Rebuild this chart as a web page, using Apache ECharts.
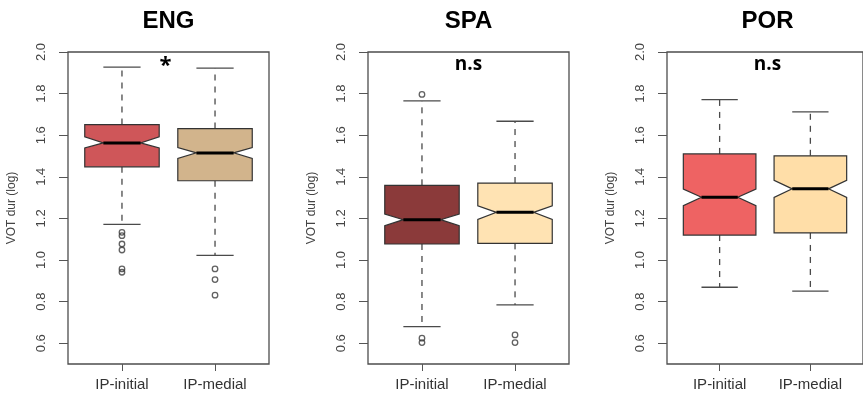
<!DOCTYPE html>
<html>
<head>
<meta charset="utf-8">
<script src="https://cdn.jsdelivr.net/npm/echarts@6/dist/echarts.min.js"></script>
<style>
  html, body { margin: 0; padding: 0; background: #fff; }
  #chart { width: 863px; height: 399px; }
</style>
</head>
<body>
<div id="chart"></div>
<script>
// Groups and panels
const categories = ['IP-initial', 'IP-medial'];
const panels = ['ENG', 'SPA', 'POR'];
const significance = ['*', 'n.s', 'n.s'];
const yTicks = [0.6, 0.8, 1.0, 1.2, 1.4, 1.6, 1.8, 2.0];

// Box summaries: [lower whisker, Q1, notch low, median, notch high, Q3, upper whisker]
const engInitial = [1.171, 1.448, 1.539, 1.563, 1.592, 1.651, 1.927];
const engMedial  = [1.022, 1.381, 1.488, 1.515, 1.541, 1.632, 1.922];
const spaInitial = [0.680, 1.077, 1.165, 1.194, 1.221, 1.359, 1.765];
const spaMedial  = [0.784, 1.080, 1.195, 1.229, 1.261, 1.370, 1.667];
const porInitial = [0.869, 1.120, 1.261, 1.302, 1.341, 1.510, 1.771];
const porMedial  = [0.850, 1.130, 1.301, 1.342, 1.383, 1.501, 1.712];

// Outlying points
const engInitialOut = [1.133, 1.117, 1.077, 1.048, 0.957, 0.941];
const engMedialOut  = [0.957, 0.906, 0.831];
const spaInitialOut = [1.796, 0.624, 0.603];
const spaMedialOut  = [0.640, 0.603];
const porInitialOut = [];
const porMedialOut  = [];

const boxes = [[engInitial, engMedial], [spaInitial, spaMedial], [porInitial, porMedial]];
const outliers = [[engInitialOut, engMedialOut], [spaInitialOut, spaMedialOut], [porInitialOut, porMedialOut]];
const fills = [['#CF5659', '#D2B48C'], ['#8B3A3A', '#FFE3B3'], ['#EE6363', '#FFDEA8']];

const FONT = 'Liberation Sans, Arial, sans-serif';
const gridLefts = [68, 368, 667];
const gridTop = 52, gridW = 201, gridH = 312;

function makeRenderer(panelIdx) {
  return function (params, api) {
    const x = api.value(0);
    const wlo = api.value(1), q1 = api.value(2), nlo = api.value(3), med = api.value(4),
          nhi = api.value(5), q3 = api.value(6), whi = api.value(7);
    const hw = api.size([0.4, 0])[0];
    const cw = hw / 2;
    const P = v => api.coord([x, v]);
    const xc = P(med)[0];
    const yWlo = P(wlo)[1], yQ1 = P(q1)[1], yNlo = P(nlo)[1], yMed = P(med)[1],
          yNhi = P(nhi)[1], yQ3 = P(q3)[1], yWhi = P(whi)[1];
    const fill = fills[panelIdx][params.dataIndex];
    const whiskerStyle = { stroke: '#4a4a4a', lineWidth: 1.3, lineDash: [6, 6], fill: null };
    const capStyle = { stroke: '#4a4a4a', lineWidth: 1.3, fill: null };
    return {
      type: 'group',
      children: [
        { type: 'polyline', shape: { points: [[xc, yQ1], [xc, yWlo]] }, style: whiskerStyle },
        { type: 'polyline', shape: { points: [[xc, yQ3], [xc, yWhi]] }, style: whiskerStyle },
        { type: 'polyline', shape: { points: [[xc - cw, yWlo], [xc + cw, yWlo]] }, style: capStyle },
        { type: 'polyline', shape: { points: [[xc - cw, yWhi], [xc + cw, yWhi]] }, style: capStyle },
        {
          type: 'polygon',
          shape: {
            points: [
              [xc - hw, yQ3], [xc + hw, yQ3], [xc + hw, yNhi], [xc + cw, yMed], [xc + hw, yNlo],
              [xc + hw, yQ1], [xc - hw, yQ1], [xc - hw, yNlo], [xc - cw, yMed], [xc - hw, yNhi]
            ]
          },
          style: { fill: fill, stroke: '#333', lineWidth: 1.2 }
        },
        { type: 'polyline', shape: { points: [[xc - cw, yMed], [xc + cw, yMed]] },
          style: { stroke: '#000', lineWidth: 3, fill: null } }
      ]
    };
  };
}

const grid = [], xAxis = [], yAxis = [], series = [], graphic = [];

panels.forEach((name, i) => {
  grid.push({
    left: gridLefts[i], top: gridTop, width: gridW, height: gridH,
    show: true, borderColor: '#4d4d4d', borderWidth: 1.3, backgroundColor: 'transparent'
  });
  xAxis.push({
    gridIndex: i, type: 'value', min: 0.42, max: 2.58,
    axisLine: { show: false },
    splitLine: { show: false },
    axisTick: { show: true, customValues: [1, 2], length: 7, lineStyle: { color: '#555' } },
    axisLabel: {
      show: true, customValues: [1, 2], margin: 13,
      formatter: v => categories[Math.round(v) - 1],
      fontFamily: FONT, fontSize: 15, color: '#333'
    }
  });
  yAxis.push({
    gridIndex: i, type: 'value', min: 0.5, max: 2.0,
    name: 'VOT dur (log)', nameLocation: 'middle', nameGap: 50, nameRotate: 90,
    nameTextStyle: { fontFamily: FONT, fontSize: 12, color: '#444' },
    axisLine: { show: false },
    splitLine: { show: false },
    axisTick: { show: true, customValues: yTicks, length: 9, lineStyle: { color: '#555' } },
    axisLabel: {
      show: true, customValues: yTicks, rotate: 90, margin: 20,
      formatter: v => v.toFixed(1),
      fontFamily: FONT, fontSize: 13, color: '#444'
    }
  });
  series.push({
    type: 'custom', xAxisIndex: i, yAxisIndex: i,
    renderItem: makeRenderer(i),
    encode: { x: 0, y: [1, 2, 3, 4, 5, 6, 7] },
    data: boxes[i].map((b, k) => [k + 1].concat(b)),
    z: 2
  });
  const pts = [];
  outliers[i].forEach((arr, k) => arr.forEach(v => pts.push([k + 1, v])));
  series.push({
    type: 'scatter', xAxisIndex: i, yAxisIndex: i,
    symbol: 'circle', symbolSize: 5.5,
    itemStyle: { color: 'rgba(0,0,0,0)', borderColor: '#3a3a3a', borderWidth: 1.3 },
    data: pts, z: 3
  });
  graphic.push({
    type: 'text', x: gridLefts[i] + gridW / 2, y: 21,
    style: { text: name, textAlign: 'center', textVerticalAlign: 'middle',
             font: 'bold 24px ' + FONT, fill: '#000' }
  });
  graphic.push({
    type: 'text', x: gridLefts[i] + gridW / 2 - (i === 0 ? 3 : 0), y: i === 0 ? 66 : 65,
    style: { text: significance[i], textAlign: 'center', textVerticalAlign: 'middle',
             font: (i === 0 ? 'bold 22px ' : 'bold 19px ') + '"Open Sans", sans-serif', fill: '#000' }
  });
});

const chart = echarts.init(document.getElementById('chart'), null, { renderer: 'canvas' });
chart.setOption({
  animation: false,
  backgroundColor: '#fff',
  grid, xAxis, yAxis, series, graphic
});
</script>
</body>
</html>
